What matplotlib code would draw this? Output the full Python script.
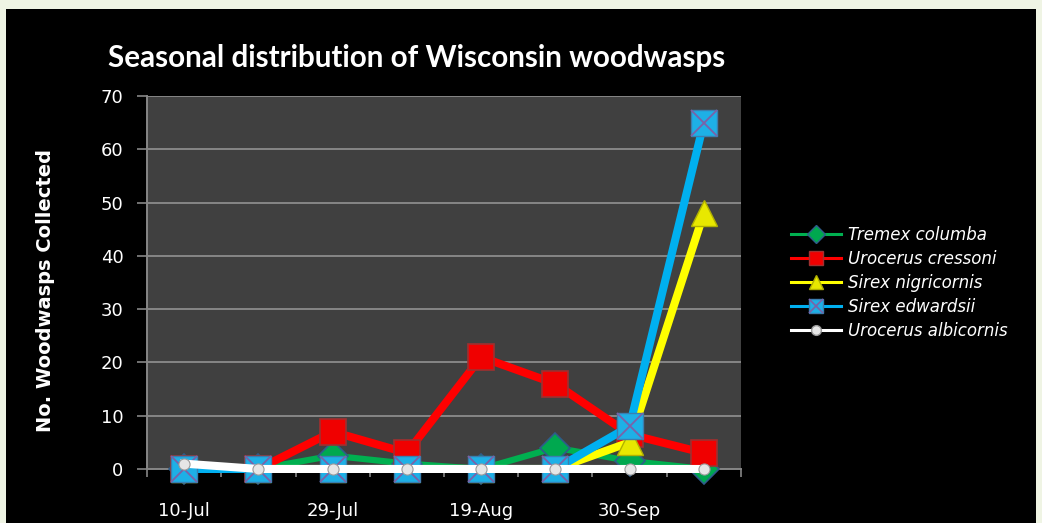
import matplotlib
matplotlib.use('Agg')
import matplotlib.pyplot as plt
from matplotlib.lines import Line2D
from matplotlib.patches import Rectangle

# ----------------------------------------
# Data
# ----------------------------------------
x_labels = ['10-Jul', '', '29-Jul', '', '19-Aug', '', '30-Sep', '']

tremex_columba = [0, 0, 2.5, 1, 0, 4, 1.5, 0]
urocerus_cressoni = [0, 0, 7, 3, 21, 16, 6.5, 3]
sirex_nigricornis = [0, 0, 0, 0, 0, 0, 5, 48]
sirex_edwardsii = [0, 0, 0, 0, 0, 0, 8, 65]
urocerus_albicornis = [1, 0, 0, 0, 0, 0, 0, 0]

species = ['Tremex columba', 'Urocerus cressoni', 'Sirex nigricornis',
           'Sirex edwardsii', 'Urocerus albicornis']

# ----------------------------------------
# Figure
# ----------------------------------------
fig = plt.figure(figsize=(10.42, 5.23), dpi=100, facecolor='#eff4e4')
fig.patches.append(Rectangle((6 / 1042, 0), 1030 / 1042, 514 / 523,
                             transform=fig.transFigure, facecolor='black',
                             edgecolor='none', zorder=-1))

ax = fig.add_axes([0.1411, 0.1033, 0.5700, 0.7132])
ax.set_facecolor('#404040')

x = list(range(len(x_labels)))
lw = 5.8
ms = 18.5

ax.plot(x, tremex_columba, color='#00b050', linewidth=4.5, marker='D',
        markersize=ms * 0.85, markerfacecolor='#00a84f', markeredgecolor='#2e5c8a',
        markeredgewidth=1.2, zorder=3, clip_on=False)
ax.plot(x, urocerus_cressoni, color='#ff0000', linewidth=lw, marker='s',
        markersize=ms, markerfacecolor='#f00000', markeredgecolor='#a03030',
        markeredgewidth=1.2, zorder=4, clip_on=False)
ax.plot(x, sirex_nigricornis, color='#ffff00', linewidth=lw, marker='^',
        markersize=ms, markerfacecolor='#e8e800', markeredgecolor='#b0b000',
        markeredgewidth=1.0, zorder=5, clip_on=False)
ax.plot(x, sirex_edwardsii, color='#00b0f0', linewidth=lw, marker='s',
        markersize=ms, markerfacecolor='#1eb0e6', markeredgecolor='#3a7fb0',
        markeredgewidth=1.0, zorder=6, clip_on=False)
ax.plot(x, sirex_edwardsii, linestyle='none', marker='x', markersize=ms,
        markeredgecolor='#7a62a8', markeredgewidth=1.3, zorder=6.5, clip_on=False)
ax.plot(x, urocerus_albicornis, color='#ffffff', linewidth=lw, marker='o',
        markersize=8, markerfacecolor='#e6e6e6', markeredgecolor='#9a9a9a',
        markeredgewidth=0.8, zorder=7, clip_on=False)

# Axes
ax.set_xlim(-0.5, len(x_labels) - 0.5)
ax.set_ylim(0, 70)
ax.set_yticks(range(0, 71, 10))
ax.set_xticks(x)
ax.set_xticklabels(x_labels)
ax.set_xticks([i - 0.5 for i in range(len(x_labels) + 1)], minor=True)
ax.tick_params(axis='x', which='major', length=0, pad=24, labelsize=13,
               labelcolor='white')
ax.tick_params(axis='x', which='minor', length=6, width=1.2, color='#868686',
               direction='out')
ax.tick_params(axis='y', length=7, width=1.2, color='#868686', pad=10,
               labelsize=13, labelcolor='white')

ax.grid(axis='y', color='#868686', linewidth=1.4, zorder=1)
ax.set_axisbelow(True)
for side in ['top', 'right']:
    ax.spines[side].set_visible(False)
for side in ['left', 'bottom']:
    ax.spines[side].set_color('#868686')
    ax.spines[side].set_linewidth(1.4)

fig.text(417 / 1042, 1 - 58 / 523, 'Seasonal distribution of Wisconsin woodwasps',
         ha='center', va='center', color='white', fontsize=21.3, fontweight='bold',
         family='Lato')
fig.text(46 / 1042, 1 - 291 / 523, 'No. Woodwasps Collected', rotation=90,
         ha='center', va='center', color='white', fontsize=14, fontweight='bold')

# Legend
handles = [
    Line2D([], [], color='#00b050', linewidth=2.2, marker='D', markersize=9,
           markerfacecolor='#00a84f', markeredgecolor='#2e5c8a'),
    Line2D([], [], color='#ff0000', linewidth=2.2, marker='s', markersize=10,
           markerfacecolor='#f00000', markeredgecolor='#a03030'),
    Line2D([], [], color='#ffff00', linewidth=2.2, marker='^', markersize=10,
           markerfacecolor='#e8e800', markeredgecolor='#b0b000'),
    (Line2D([], [], color='#00b0f0', linewidth=2.2, marker='s', markersize=10,
            markerfacecolor='#1eb0e6', markeredgecolor='#3a7fb0'),
     Line2D([], [], linestyle='none', marker='x', markersize=10,
            markeredgecolor='#7a62a8', markeredgewidth=1.2)),
    Line2D([], [], color='#ffffff', linewidth=2.2, marker='o', markersize=7,
           markerfacecolor='#e6e6e6', markeredgecolor='#9a9a9a'),
]
leg = fig.legend(handles, species, loc='center left',
                 bbox_to_anchor=(776 / 1042, 1 - 283 / 523), frameon=False,
                 prop={'style': 'italic', 'size': 12}, labelcolor='white',
                 handlelength=3.0, handletextpad=0.4, labelspacing=0.35)

plt.savefig('out.png', dpi=100, facecolor=fig.get_facecolor())
